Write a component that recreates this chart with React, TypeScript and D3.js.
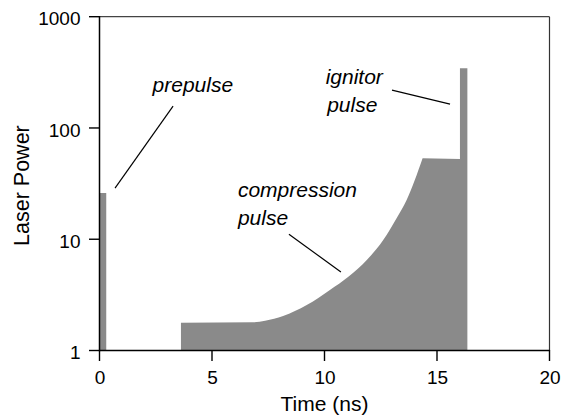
import React from "react";
import * as d3 from "d3";

// ---- data ----
const prepulseTime = [0, 0.3];
const prepulsePower = [26, 26];

// rising part of the compression pulse
const compressionTime = [3.62, 6.82, 7.36, 8.16, 9.21, 10.24, 11.06, 11.88, 12.61, 13.21, 13.65, 14.36];
const compressionPower = [1.78, 1.79, 1.85, 2.04, 2.56, 3.5, 4.6, 6.5, 9.84, 15.5, 22.5, 53.3];

// flat top of the compression pulse, then the ignitor spike
const plateauTime = [14.36, 16.02];
const plateauPower = [53.3, 52.6];

const ignitorTime = [16.02, 16.35];
const ignitorPower = [345, 345];

const xTicks = [0, 5, 10, 15, 20];
const yTicks = [1, 10, 100, 1000];

const labelTexts = ["prepulse", "compression", "pulse", "ignitor", "pulse"];
const labelT = [2.36, 6.15, 6.15, 10.05, 10.12];
const labelV = [210, 23.9, 13.4, 248, 139];

const leaderT1 = [0.69, 8.42, 13.0];
const leaderV1 = [28.8, 11.1, 219];
const leaderT2 = [3.27, 10.73, 15.58];
const leaderV2 = [157, 5.07, 164];

const W = 562;
const H = 417;
const L = 99.5, R = 549.5, T = 16.7, B = 350.5;

export default function App() {
  const x = d3.scaleLinear().domain([0, 20]).range([L, R]);
  const y = d3.scaleLog().domain([1, 1000]).range([B, T]);

  const pre = d3
    .area<number>()
    .x((_, i) => x(prepulseTime[i]))
    .y0(B)
    .y1((_, i) => y(prepulsePower[i]))(prepulseTime) as string;

  // rising edge (smooth) followed by straight plateau + ignitor spike
  const rising = d3
    .line<number>()
    .x((_, i) => x(compressionTime[i]))
    .y((_, i) => y(compressionPower[i]))
    .curve(d3.curveMonotoneX)(compressionTime) as string;
  const tail: string[] = [];
  tail.push(`L${x(plateauTime[1])},${y(plateauPower[1])}`);
  ignitorTime.forEach((t, i) => tail.push(`L${x(t)},${y(ignitorPower[i])}`));
  tail.push(`L${x(ignitorTime[ignitorTime.length - 1])},${B}`);
  tail.push(`L${x(compressionTime[0])},${B}Z`);
  const main = `M${x(compressionTime[0])},${B}L${rising.slice(1)}${tail.join("")}`;

  const fill = "#8a8a8a";
  const font = "'Liberation Sans', Arial, Helvetica, sans-serif";

  return (
    <svg
      width={W}
      height={H}
      style={{ position: "absolute", left: 0, top: 0, background: "#fff" }}
      fontFamily={font}
    >
      <path d={pre} fill={fill} />
      <path d={main} fill={fill} />

      {/* frame */}
      <line x1={L} x2={R} y1={T} y2={T} stroke="#444" strokeWidth={1.2} />
      <line x1={R} x2={R} y1={T} y2={B} stroke="#333" strokeWidth={1.2} />
      <line x1={L} x2={L} y1={T - 0.6} y2={B + 0.7} stroke="#000" strokeWidth={1.5} />
      <line x1={L} x2={R + 0.6} y1={B} y2={B} stroke="#000" strokeWidth={1.5} />

      {/* y ticks */}
      {yTicks.map((v) => (
        <g key={"y" + v}>
          <line x1={L - 10.5} x2={L} y1={y(v)} y2={y(v)} stroke="#000" strokeWidth={1.4} />
          <text x={80.5} y={y(v) + 8.7} fontSize={19} textAnchor="end" fill="#000">
            {v}
          </text>
        </g>
      ))}

      {/* x ticks */}
      {xTicks.map((t) => (
        <g key={"x" + t}>
          <line x1={x(t)} x2={x(t)} y1={B} y2={B + 10.5} stroke="#000" strokeWidth={1.4} />
          <text x={x(t) + 0.5} y={383.5} fontSize={19} textAnchor="middle" fill="#000">
            {t}
          </text>
        </g>
      ))}

      <text x={(L + R) / 2} y={411} fontSize={21} textAnchor="middle" fill="#000">
        Time (ns)
      </text>
      <text
        transform={`translate(28.5, ${(T + B) / 2 + 2}) rotate(-90)`}
        fontSize={21.5}
        textAnchor="middle"
        fill="#000"
      >
        Laser Power
      </text>

      {/* annotations */}
      {labelTexts.map((s, i) => (
        <text
          key={"l" + i}
          x={x(labelT[i])}
          y={y(labelV[i])}
          fontSize={21}
          fontStyle="italic"
          fill="#000"
        >
          {s}
        </text>
      ))}
      {leaderT1.map((t, i) => (
        <line
          key={"ld" + i}
          x1={x(t)}
          y1={y(leaderV1[i])}
          x2={x(leaderT2[i])}
          y2={y(leaderV2[i])}
          stroke="#000"
          strokeWidth={1.2}
        />
      ))}
    </svg>
  );
}
